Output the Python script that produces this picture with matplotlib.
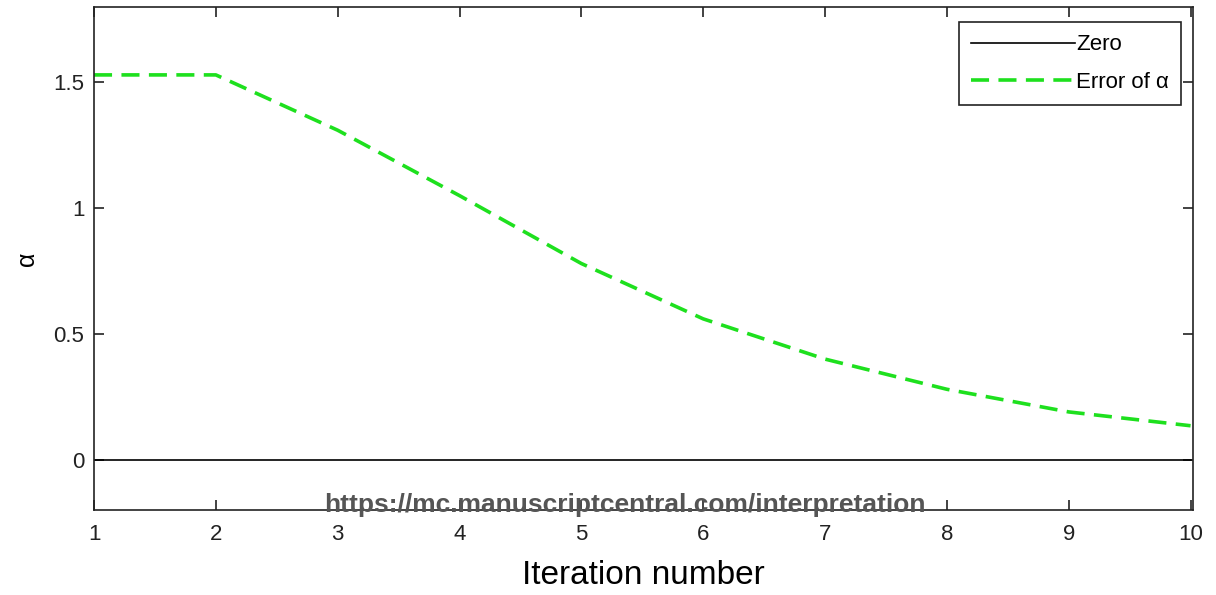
import matplotlib.pyplot as plt
import numpy as np

plt.rcParams['font.family'] = ['Liberation Sans', 'DejaVu Sans']

# iteration number and error of alpha
iteration = [1, 2, 3, 4, 5, 6, 7, 8, 9, 10]
alpha_err = [1.53, 1.53, 1.31, 1.05, 0.78, 0.56, 0.40, 0.28, 0.19, 0.135]
zero_x = [1, 10]
zero_y = [0, 0]
xticks = [1, 2, 3, 4, 5, 6, 7, 8, 9, 10]
yticks = [0, 0.5, 1, 1.5]

fig = plt.figure(figsize=(12.16, 5.95), dpi=100)
ax = fig.add_axes([94/1216, 85/595, 1099/1216, 503/595])

ax.plot(zero_x, zero_y, color="black", linewidth=1.2, label="Zero")
ax.plot(iteration, alpha_err, color="#1ee01e", linestyle=(0, (5, 2.6)),
        linewidth=2.6, label="Error of α")

ax.set_xlim(1, 10.02)
ax.set_ylim(-0.2, 1.8)
ax.set_xticks(xticks)
ax.set_xticklabels([str(t) for t in xticks])
ax.set_yticks(yticks)
ax.set_yticklabels(["0", "0.5", "1", "1.5"])
ax.tick_params(axis='both', direction='in', length=7, width=1.2,
               top=True, right=True, labelsize=16, colors='#222222')
ax.tick_params(axis='x', pad=10)
ax.tick_params(axis='y', pad=7)
for s in ax.spines.values():
    s.set_linewidth(1.2)
    s.set_color('#222222')

ax.set_xlabel("Iteration number", fontsize=24, labelpad=11)
ax.set_ylabel("α", fontsize=18, labelpad=10)

leg = ax.legend(loc="upper right", bbox_to_anchor=(0.9895, 0.97), fontsize=16,
                handlelength=4.7, handletextpad=0.05, borderpad=0.55,
                labelspacing=0.75, fancybox=False, framealpha=1,
                edgecolor='#222222', borderaxespad=0)
leg.get_frame().set_linewidth(1.2)

fig.text(625/1216, 1 - 505/595, "https://mc.manuscriptcentral.com/interpretation",
         ha="center", va="center", fontsize=19, fontweight="bold", color="#555555")

plt.savefig("out.png", dpi=100)
